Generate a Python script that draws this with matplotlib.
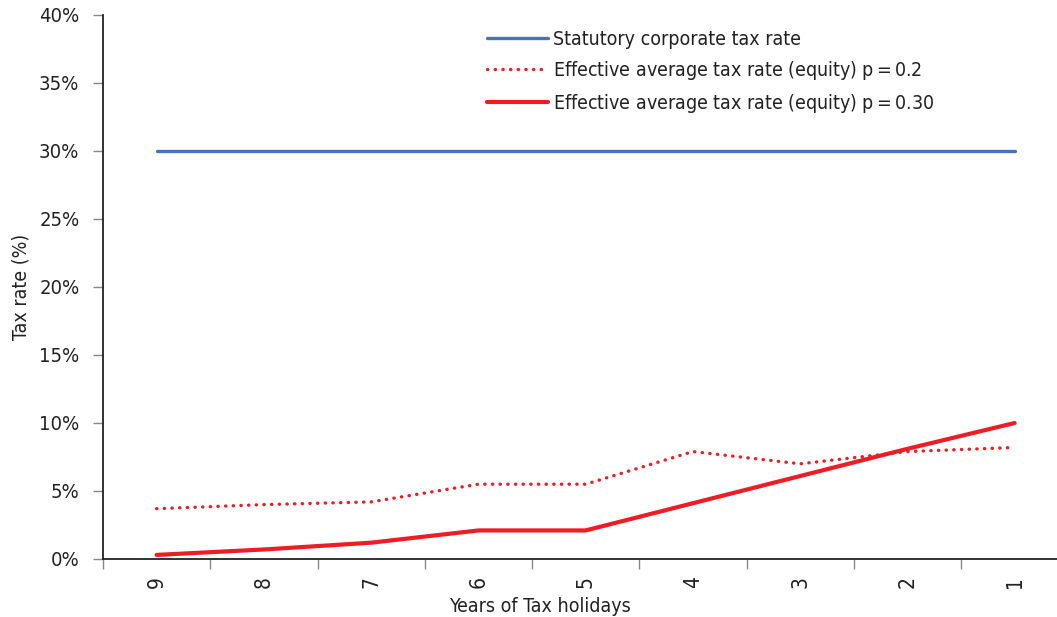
import matplotlib
matplotlib.use('Agg')
import matplotlib.pyplot as plt
from matplotlib.ticker import FixedLocator, PercentFormatter

plt.rcParams['font.family'] = ['Liberation Sans Narrow', 'DejaVu Sans']
plt.rcParams['font.stretch'] = 'condensed'

# data
years = ['9', '8', '7', '6', '5', '4', '3', '2', '1']
statutory = [30, 30, 30, 30, 30, 30, 30, 30, 30]
eatr_p02 = [3.7, 4.0, 4.2, 5.5, 5.5, 7.9, 7.0, 7.9, 8.2]
eatr_p030 = [0.3, 0.7, 1.2, 2.1, 2.1, 4.1, 6.1, 8.1, 10.0]

fig = plt.figure(figsize=(10.57, 6.17), dpi=100)
ax = fig.add_axes([103 / 1057, 58 / 617, 1 - 103 / 1057, 544 / 617])

x = list(range(len(years)))
ax.plot(x, statutory, color='#4472C4', lw=2.4, solid_capstyle='round',
        label='Statutory corporate tax rate')
ax.plot(x, eatr_p02, color='#EE1C25', lw=2.4, linestyle=(0, (0.1, 2.2)),
        dash_capstyle='round', label='Effective average tax rate (equity) p$=$0.2')
ax.plot(x, eatr_p030, color='#EE1C25', lw=3.0, solid_capstyle='round',
        label='Effective average tax rate (equity) p$=$0.30')

ax.set_xlim(-0.5, 8.395)
ax.set_ylim(0, 40)
ax.set_yticks(range(0, 41, 5))
ax.yaxis.set_major_formatter(PercentFormatter(decimals=0))
ax.tick_params(axis='y', length=7, color='#888888', width=1, labelsize=14.5,
               labelcolor='#222222', pad=10)

ax.set_xticks(x)
ax.set_xticklabels(years, rotation=90, fontsize=15, color='#222222')
ax.xaxis.set_minor_locator(FixedLocator([i - 0.5 for i in range(len(years) + 1)]))
ax.tick_params(axis='x', which='major', length=0, pad=12)
ax.tick_params(axis='x', which='minor', length=7, color='#888888', width=1)

for side in ['top', 'right']:
    ax.spines[side].set_visible(False)
for side in ['left', 'bottom']:
    ax.spines[side].set_color('#222222')
    ax.spines[side].set_linewidth(1.3)

ax.set_ylabel('Tax rate (%)', fontsize=14, color='#222222')
ax.yaxis.set_label_coords(-0.0755, 0.5)
ax.set_xlabel('Years of Tax holidays', fontsize=14, color='#222222')
ax.xaxis.set_label_coords(0.458, -0.07)

ax.legend(loc='upper left', bbox_to_anchor=(0.384, 1.005), frameon=False,
          fontsize=14, handlelength=3.15, handletextpad=0.25, labelspacing=0.52,
          labelcolor='#222222')

plt.savefig('out.png', dpi=100)
